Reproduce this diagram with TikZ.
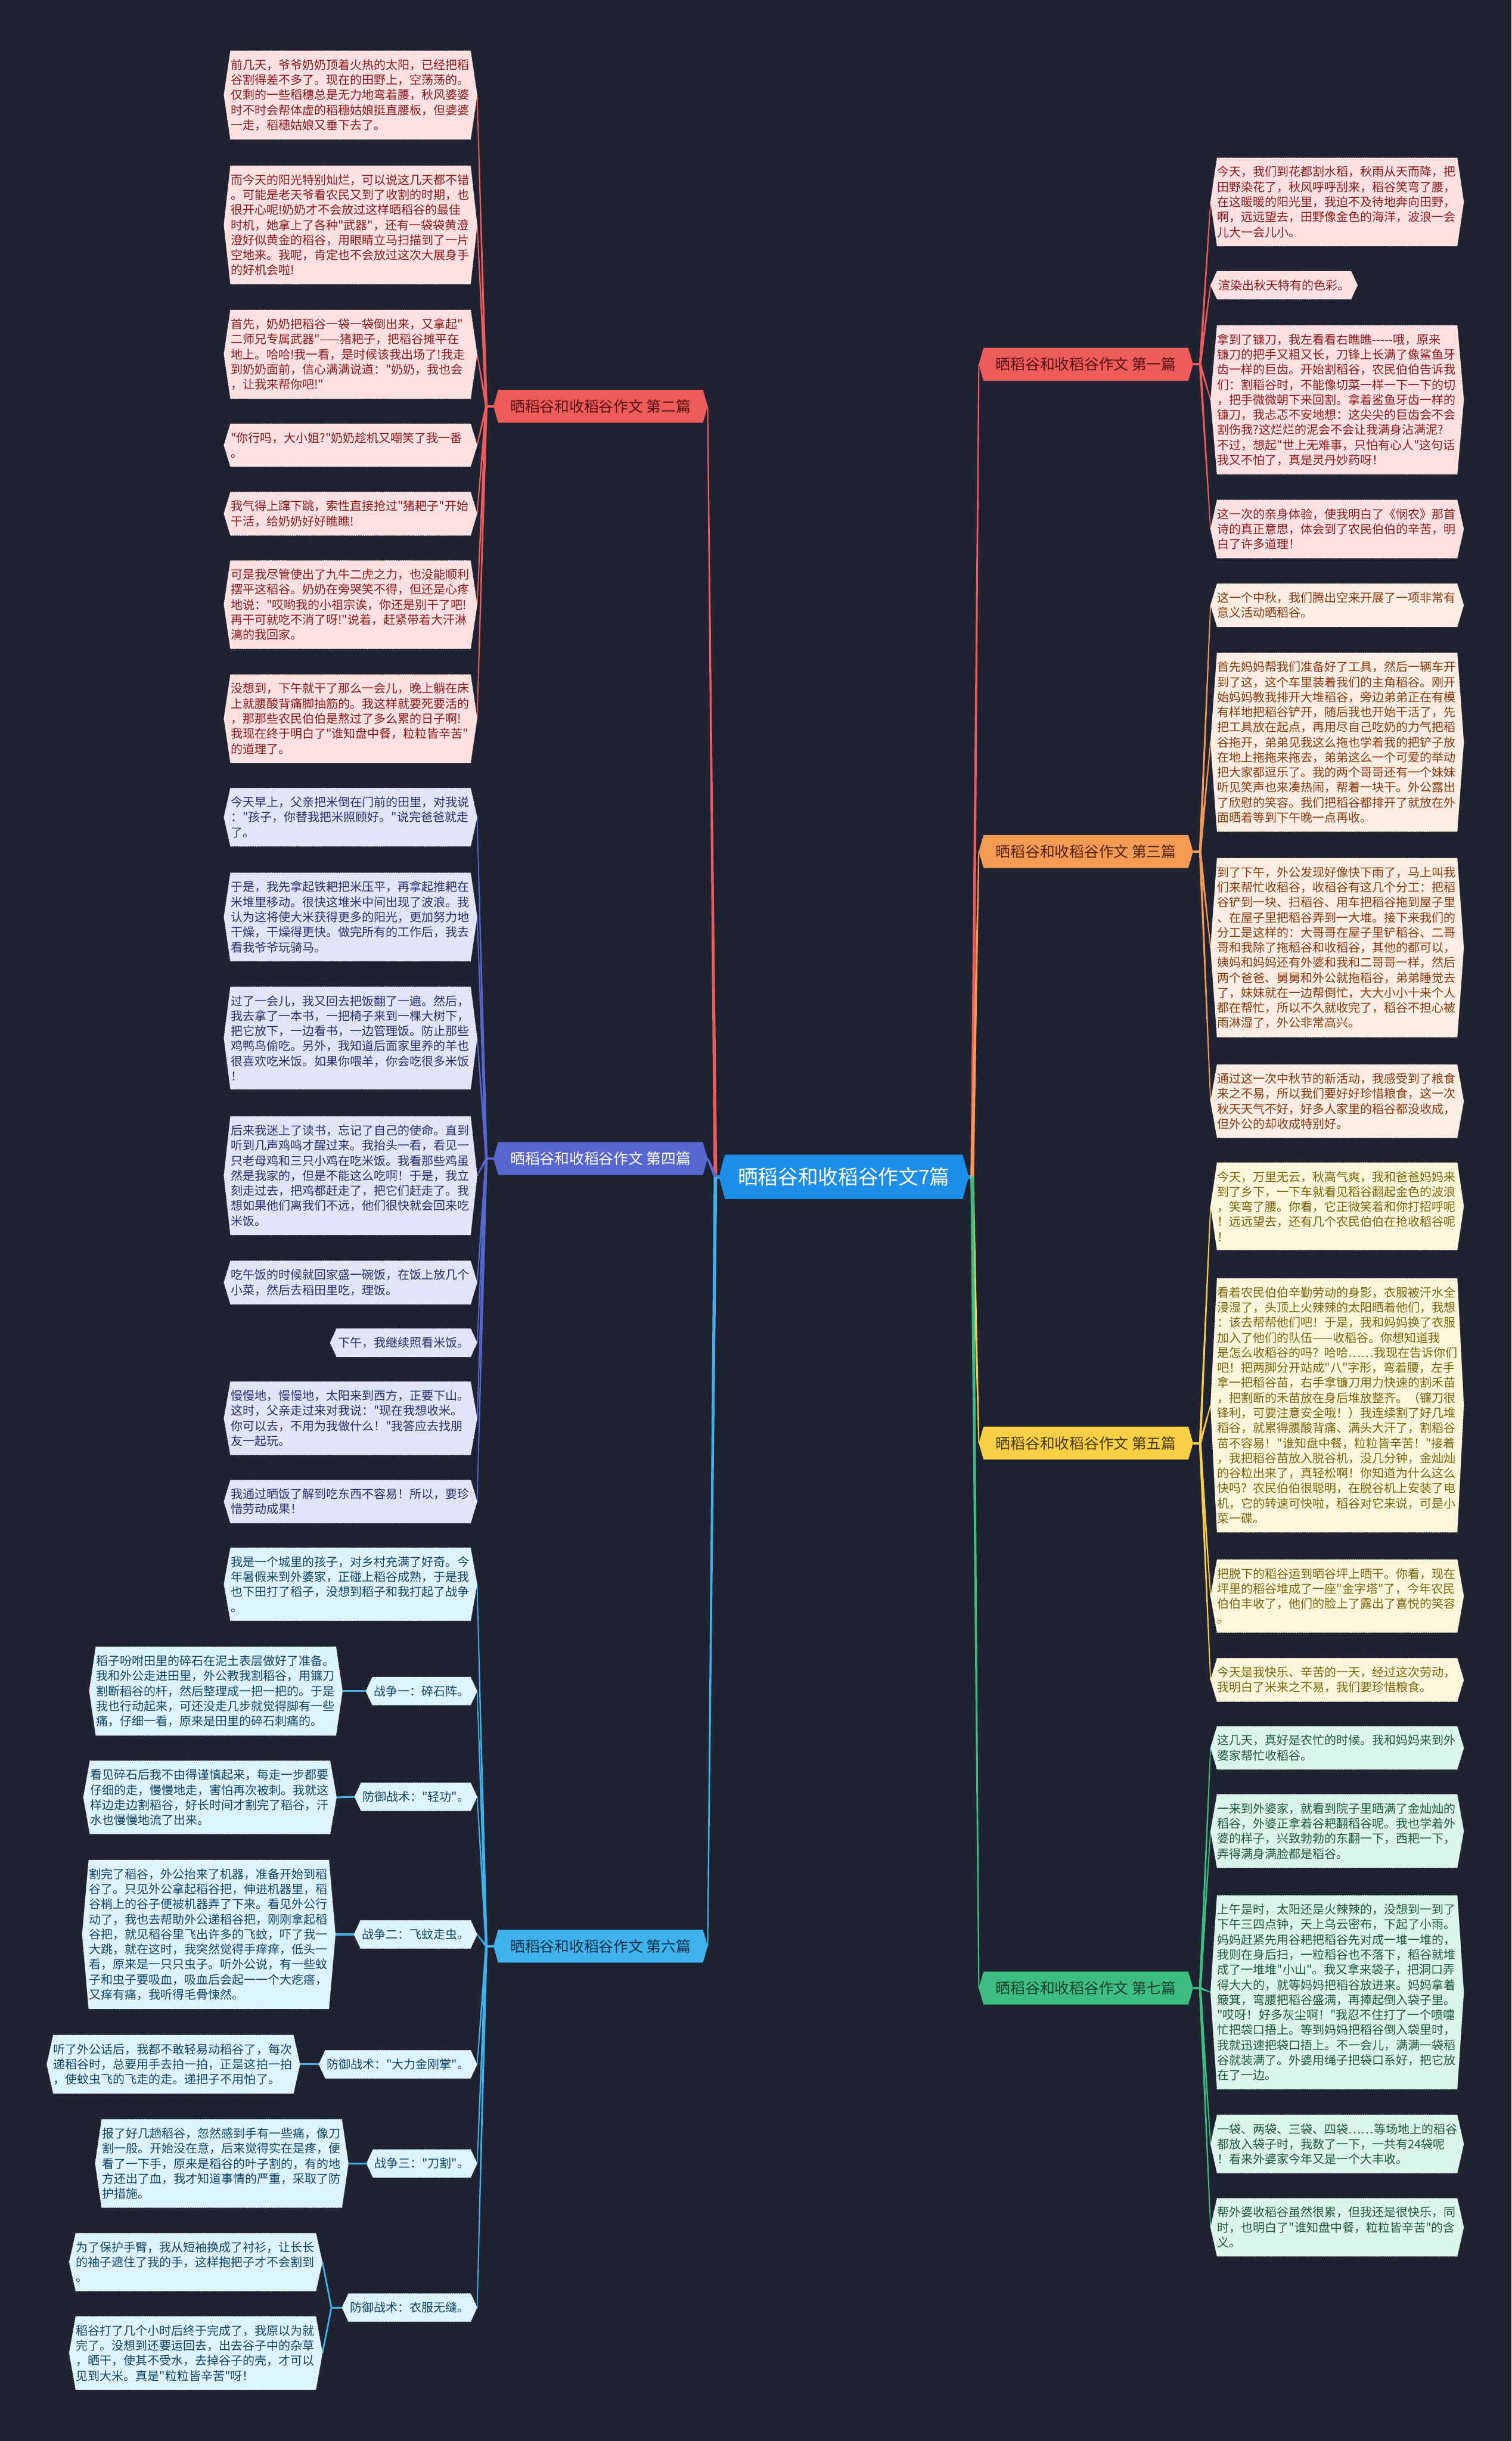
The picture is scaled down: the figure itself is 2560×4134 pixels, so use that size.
\documentclass[tikz,border=0pt]{standalone}
\usepackage{fontspec}
\newfontfamily\cjk{Noto Sans CJK SC}
\usetikzlibrary{calc}
\pgfdeclarelayer{bg}
\pgfdeclarelayer{edges}
\pgfdeclarelayer{shapes}
\pgfsetlayers{bg,edges,shapes,main}
\definecolor{bgc}{HTML}{1F2230}
\definecolor{rootc}{HTML}{1E8FE8}
\definecolor{redc}{HTML}{EE5B5B}
\definecolor{orgc}{HTML}{F39A53}
\definecolor{yelc}{HTML}{F7D046}
\definecolor{grnc}{HTML}{3DBE80}
\definecolor{indc}{HTML}{5867CF}
\definecolor{skyc}{HTML}{3FB2EC}
\definecolor{redf}{HTML}{FDE1E1}\definecolor{redt}{HTML}{8C1C1C}
\definecolor{orgf}{HTML}{FDEDE2}\definecolor{orgt}{HTML}{8A3A10}
\definecolor{yelf}{HTML}{FEF6DA}\definecolor{yelt}{HTML}{7A6410}
\definecolor{grnf}{HTML}{DCF5EA}\definecolor{grnt}{HTML}{1D5A3E}
\definecolor{indf}{HTML}{E2E5F8}\definecolor{indt}{HTML}{27306E}
\definecolor{skyf}{HTML}{DDF3FD}\definecolor{skyt}{HTML}{0F4668}
\newcommand\myleaffont{\cjk\fontsize{10.1pt}{12.75pt}\selectfont}
\newcommand\mybranchfont{\cjk\fontsize{12.5pt}{14pt}\selectfont}
\newcommand\myrootfont{\cjk\fontsize{17pt}{19pt}\selectfont}
\newcommand\taper[5]{\fill[#5] ($(#1)!#3!90:(#2)$) -- ($(#2)!#4!-90:(#1)$) -- ($(#2)!#4!90:(#1)$) -- ($(#1)!#3!-90:(#2)$) -- cycle;}
\begin{document}
\begin{tikzpicture}[x=0.5pt,y=-0.5pt,
  leaf/.style={font=\myleaffont, align=left, text width=203pt, inner xsep=0pt, inner ysep=7pt},
  sleaf/.style={font=\myleaffont, inner xsep=1pt, inner ysep=7pt},
  branch/.style={font=\mybranchfont, minimum width=173pt, minimum height=27.5pt, inner sep=0pt},
  hexbox/.style={densely dotted, line width=0.5pt}]
\begin{pgfonlayer}{bg}
\fill[bgc] (0,0) rectangle (2560,4134);
\end{pgfonlayer}
\useasboundingbox (0,0) rectangle (2560,4134);

% root and branches
\node[font=\myrootfont, text=white, minimum width=201pt, minimum height=37pt, inner sep=0pt] (root) at (1429,1993) {晒稻谷和收稻谷作文7篇};
\node[branch, text=redt!60!black] (B1) at (1839,617) {晒稻谷和收稻谷作文 第一篇};
\node[branch, text=redt!60!black] (B2) at (1017,688) {晒稻谷和收稻谷作文 第二篇};
\node[branch, text=orgt!60!black] (B3) at (1839,1442) {晒稻谷和收稻谷作文 第三篇};
\node[branch, text=white] (B4) at (1017,1962) {晒稻谷和收稻谷作文 第四篇};
\node[branch, text=yelt!60!black] (B5) at (1839,2444) {晒稻谷和收稻谷作文 第五篇};
\node[branch, text=skyt!70!black] (B6) at (1017,3296) {晒稻谷和收稻谷作文 第六篇};
\node[branch, text=grnt!70!black] (B7) at (1839,3367) {晒稻谷和收稻谷作文 第七篇};

% ---- branch 2 leaves
\begin{scope}[every node/.append style={text=redt, anchor=east}]
\node[leaf] (L2a) at (797,161) {前几天，爷爷奶奶顶着火热的太阳，已经把稻\\谷割得差不多了。现在的田野上，空荡荡的。\\仅剩的一些稻穗总是无力地弯着腰，秋风婆婆\\时不时会帮体虚的稻穗姑娘挺直腰板，但婆婆\\一走，稻穗姑娘又垂下去了。};
\node[leaf] (L2b) at (797,381) {而今天的阳光特别灿烂，可以说这几天都不错\\。可能是老天爷看农民又到了收割的时期，也\\很开心呢!奶奶才不会放过这样晒稻谷的最佳\\时机，她拿上了各种"武器"，还有一袋袋黄澄\\澄好似黄金的稻谷，用眼睛立马扫描到了一片\\空地来。我呢，肯定也不会放过这次大展身手\\的好机会啦!};
\node[leaf] (L2c) at (797,600) {首先，奶奶把稻谷一袋一袋倒出来，又拿起"\\二师兄专属武器"——猪耙子，把稻谷摊平在\\地上。哈哈!我一看，是时候该我出场了!我走\\到奶奶面前，信心满满说道："奶奶，我也会\\，让我来帮你吧!"};
\node[leaf] (L2d) at (797,754) {"你行吗，大小姐?"奶奶趁机又嘲笑了我一番\\。};
\node[leaf] (L2e) at (797,870) {我气得上蹿下跳，索性直接抢过"猪耙子"开始\\干活，给奶奶好好瞧瞧!};
\node[leaf] (L2f) at (797,1024) {可是我尽管使出了九牛二虎之力，也没能顺利\\摆平这稻谷。奶奶在旁哭笑不得，但还是心疼\\地说："哎哟我的小祖宗诶，你还是别干了吧!\\再干可就吃不消了呀!"说着，赶紧带着大汗淋\\漓的我回家。};
\node[leaf] (L2g) at (797,1217) {没想到，下午就干了那么一会儿，晚上躺在床\\上就腰酸背痛脚抽筋的。我这样就要死要活的\\，那那些农民伯伯是熬过了多么累的日子啊!\\我现在终于明白了"谁知盘中餐，粒粒皆辛苦"\\的道理了。};
\end{scope}

% ---- branch 4 leaves
\begin{scope}[every node/.append style={text=indt, anchor=east}]
\node[leaf] (L4a) at (797,1384) {今天早上，父亲把米倒在门前的田里，对我说\\："孩子，你替我把米照顾好。"说完爸爸就走\\了。};
\node[leaf] (L4b) at (797,1553) {于是，我先拿起铁耙把米压平，再拿起推耙在\\米堆里移动。很快这堆米中间出现了波浪。我\\认为这将使大米获得更多的阳光，更加努力地\\干燥，干燥得更快。做完所有的工作后，我去\\看我爷爷玩骑马。};
\node[leaf] (L4c) at (797,1758) {过了一会儿，我又回去把饭翻了一遍。然后，\\我去拿了一本书，一把椅子来到一棵大树下，\\把它放下，一边看书，一边管理饭。防止那些\\鸡鸭鸟偷吃。另外，我知道后面家里养的羊也\\很喜欢吃米饭。如果你喂羊，你会吃很多米饭\\！};
\node[leaf] (L4d) at (797,1991) {后来我迷上了读书，忘记了自己的使命。直到\\听到几声鸡鸣才醒过来。我抬头一看，看见一\\只老母鸡和三只小鸡在吃米饭。我看那些鸡虽\\然是我家的，但是不能这么吃啊！于是，我立\\刻走过去，把鸡都赶走了，把它们赶走了。我\\想如果他们离我们不远，他们很快就会回来吃\\米饭。};
\node[leaf] (L4e) at (797,2172) {吃午饭的时候就回家盛一碗饭，在饭上放几个\\小菜，然后去稻田里吃，理饭。};
\node[sleaf] (L4f) at (797,2274) {下午，我继续照看米饭。};
\node[leaf] (L4g) at (797,2402) {慢慢地，慢慢地，太阳来到西方，正要下山。\\这时，父亲走过来对我说："现在我想收米。\\你可以去，不用为我做什么！"我答应去找朋\\友一起玩。};
\node[leaf] (L4h) at (797,2543) {我通过晒饭了解到吃东西不容易！所以，要珍\\惜劳动成果！};
\end{scope}

% ---- branch 6
\begin{scope}[every node/.append style={text=skyt, anchor=east}]
\node[leaf] (S6a) at (797,2683) {我是一个城里的孩子，对乡村充满了好奇。今\\年暑假来到外婆家，正碰上稻谷成熟，于是我\\也下田打了稻子，没想到稻子和我打起了战争\\。};
\node[sleaf] (W1) at (797,2864) {战争一：碎石阵。};
\node[sleaf] (D1) at (797,3043) {防御战术："轻功"。};
\node[sleaf] (W2) at (797,3276) {战争二：飞蚊走虫。};
\node[sleaf] (D2) at (797,3496) {防御战术："大力金刚掌"。};
\node[sleaf] (W3) at (797,3664) {战争三："刀割"。};
\node[sleaf] (D3) at (797,3908) {防御战术：衣服无缝。};
\node[leaf] (S6b) at (569,2864) {稻子吩咐田里的碎石在泥土表层做好了准备。\\我和外公走进田里，外公教我割稻谷，用镰刀\\割断稻谷的杆，然后整理成一把一把的。于是\\我也行动起来，可还没走几步就觉得脚有一些\\痛，仔细一看，原来是田里的碎石刺痛的。};
\node[leaf] (S6c) at (559,3044) {看见碎石后我不由得谨慎起来，每走一步都要\\仔细的走，慢慢地走，害怕再次被刺。我就这\\样边走边割稻谷，好长时间才割完了稻谷，汗\\水也慢慢地流了出来。};
\node[leaf] (S6d) at (557,3276) {割完了稻谷，外公抬来了机器，准备开始到稻\\谷了。只见外公拿起稻谷把，伸进机器里，稻\\谷梢上的谷子便被机器弄了下来。看见外公行\\动了，我也去帮助外公递稻谷把，刚刚拿起稻\\谷把，就见稻谷里飞出许多的飞蚊，吓了我一\\大跳，就在这时，我突然觉得手痒痒，低头一\\看，原来是一只只虫子。听外公说，有一些蚊\\子和虫子要吸血，吸血后会起一一个大疙瘩，\\又痒有痛，我听得毛骨悚然。};
\node[leaf] (S6e) at (497,3496) {听了外公话后，我都不敢轻易动稻谷了，每次\\递稻谷时，总要用手去拍一拍，正是这拍一拍\\，使蚊虫飞的飞走的走。递把子不用怕了。};
\node[leaf] (S6f) at (579,3664) {报了好几趟稻谷，忽然感到手有一些痛，像刀\\割一般。开始没在意，后来觉得实在是疼，便\\看了一下手，原来是稻谷的叶子割的，有的地\\方还出了血，我才知道事情的严重，采取了防\\护措施。};
\node[leaf] (S6g) at (535,3831) {为了保护手臂，我从短袖换成了衬衫，让长长\\的袖子遮住了我的手，这样抱把子才不会割到\\。};
\node[leaf] (S6h) at (535,3985) {稻谷打了几个小时后终于完成了，我原以为就\\完了。没想到还要运回去，出去谷子中的杂草\\，晒干，使其不受水，去掉谷子的壳，才可以\\见到大米。真是"粒粒皆辛苦"呀！};
\end{scope}

% ---- branch 1 leaves
\begin{scope}[every node/.append style={text=redt, anchor=west}]
\node[leaf] (R1a) at (2061,342) {今天，我们到花都割水稻，秋雨从天而降，把\\田野染花了，秋风呼呼刮来，稻谷笑弯了腰，\\在这暖暖的阳光里，我迫不及待地奔向田野，\\啊，远远望去，田野像金色的海洋，波浪一会\\儿大一会儿小。};
\node[sleaf] (R1b) at (2061,483) {渲染出秋天特有的色彩。};
\node[leaf] (R1c) at (2061,677) {拿到了镰刀，我左看看右瞧瞧\mbox{-}\mbox{-}\mbox{-}\mbox{-}\mbox{-}哦，原来\\镰刀的把手又粗又长，刀锋上长满了像鲨鱼牙\\齿一样的巨齿。开始割稻谷，农民伯伯告诉我\\们：割稻谷时，不能像切菜一样一下一下的切\\，把手微微朝下来回割。拿着鲨鱼牙齿一样的\\镰刀，我忐忑不安地想：这尖尖的巨齿会不会\\割伤我?这烂烂的泥会不会让我满身沾满泥?\\不过，想起"世上无难事，只怕有心人"这句话\\我又不怕了，真是灵丹妙药呀！};
\node[leaf] (R1d) at (2061,896) {这一次的亲身体验，使我明白了《悯农》那首\\诗的真正意思，体会到了农民伯伯的辛苦，明\\白了许多道理！};
\end{scope}

% ---- branch 3 leaves
\begin{scope}[every node/.append style={text=orgt, anchor=west}]
\node[leaf] (R3a) at (2061,1025) {这一个中秋，我们腾出空来开展了一项非常有\\意义活动晒稻谷。};
\node[leaf] (R3b) at (2061,1257) {首先妈妈帮我们准备好了工具，然后一辆车开\\到了这，这个车里装着我们的主角稻谷。刚开\\始妈妈教我排开大堆稻谷，旁边弟弟正在有模\\有样地把稻谷铲开，随后我也开始干活了，先\\把工具放在起点，再用尽自己吃奶的力气把稻\\谷拖开，弟弟见我这么拖也学着我的把铲子放\\在地上拖拖来拖去，弟弟这么一个可爱的举动\\把大家都逗乐了。我的两个哥哥还有一个妹妹\\听见笑声也来凑热闹，帮着一块干。外公露出\\了欣慰的笑容。我们把稻谷都排开了就放在外\\面晒着等到下午晚一点再收。};
\node[leaf] (R3c) at (2061,1605) {到了下午，外公发现好像快下雨了，马上叫我\\们来帮忙收稻谷，收稻谷有这几个分工：把稻\\谷铲到一块、扫稻谷、用车把稻谷拖到屋子里\\、在屋子里把稻谷弄到一大堆。接下来我们的\\分工是这样的：大哥哥在屋子里铲稻谷、二哥\\哥和我除了拖稻谷和收稻谷，其他的都可以，\\姨妈和妈妈还有外婆和我和二哥哥一样，然后\\两个爸爸、舅舅和外公就拖稻谷，弟弟睡觉去\\了，妹妹就在一边帮倒忙，大大小小十来个人\\都在帮忙，所以不久就收完了，稻谷不担心被\\雨淋湿了，外公非常高兴。};
\node[leaf] (R3d) at (2061,1865) {通过这一次中秋节的新活动，我感受到了粮食\\来之不易，所以我们要好好珍惜粮食，这一次\\秋天天气不好，好多人家里的稻谷都没收成，\\但外公的却收成特别好。};
\end{scope}

% ---- branch 5 leaves
\begin{scope}[every node/.append style={text=yelt, anchor=west}]
\node[leaf] (R5a) at (2061,2043) {今天，万里无云，秋高气爽，我和爸爸妈妈来\\到了乡下，一下车就看见稻谷翻起金色的波浪\\，笑弯了腰。你看，它正微笑着和你打招呼呢\\！远远望去，还有几个农民伯伯在抢收稻谷呢\\！};
\node[leaf] (R5b) at (2061,2380) {看着农民伯伯辛勤劳动的身影，衣服被汗水全\\浸湿了，头顶上火辣辣的太阳晒着他们，我想\\：该去帮帮他们吧！于是，我和妈妈换了衣服\\加入了他们的队伍——收稻谷。你想知道我\\是怎么收稻谷的吗？哈哈……我现在告诉你们\\吧！把两脚分开站成"八"字形，弯着腰，左手\\拿一把稻谷苗，右手拿镰刀用力快速的割禾苗\\，把割断的禾苗放在身后堆放整齐。（镰刀很\\锋利，可要注意安全哦！）我连续割了好几堆\\稻谷，就累得腰酸背痛、满头大汗了，割稻谷\\苗不容易！"谁知盘中餐，粒粒皆辛苦！"接着\\，我把稻谷苗放入脱谷机，没几分钟，金灿灿\\的谷粒出来了，真轻松啊！你知道为什么这么\\快吗？农民伯伯很聪明，在脱谷机上安装了电\\机，它的转速可快啦，稻谷对它来说，可是小\\菜一碟。};
\node[leaf] (R5c) at (2061,2703) {把脱下的稻谷运到晒谷坪上晒干。你看，现在\\坪里的稻谷堆成了一座"金字塔"了，今年农民\\伯伯丰收了，他们的脸上了露出了喜悦的笑容\\。};
\node[leaf] (R5d) at (2061,2845) {今天是我快乐、辛苦的一天，经过这次劳动，\\我明白了米来之不易，我们要珍惜粮食。};
\end{scope}

% ---- branch 7 leaves
\begin{scope}[every node/.append style={text=grnt, anchor=west}]
\node[leaf] (R7a) at (2061,2960) {这几天，真好是农忙的时候。我和妈妈来到外\\婆家帮忙收稻谷。};
\node[leaf] (R7b) at (2061,3101) {一来到外婆家，就看到院子里晒满了金灿灿的\\稻谷，外婆正拿着谷耙翻稻谷呢。我也学着外\\婆的样子，兴致勃勃的东翻一下，西耙一下，\\弄得满身满脸都是稻谷。};
\node[leaf] (R7c) at (2061,3374) {上午是时，太阳还是火辣辣的，没想到一到了\\下午三四点钟，天上乌云密布，下起了小雨。\\妈妈赶紧先用谷耙把稻谷先对成一堆一堆的，\\我则在身后扫，一粒稻谷也不落下，稻谷就堆\\成了一堆堆"小山"。我又拿来袋子，把洞口弄\\得大大的，就等妈妈把稻谷放进来。妈妈拿着\\簸箕，弯腰把稻谷盛满，再捧起倒入袋子里。\\"哎呀！好多灰尘啊！"我忍不住打了一个喷嚏\\忙把袋口捂上。等到妈妈把稻谷倒入袋里时，\\我就迅速把袋口捂上。不一会儿，满满一袋稻\\谷就装满了。外婆用绳子把袋口系好，把它放\\在了一边。};
\node[leaf] (R7d) at (2061,3631) {一袋、两袋、三袋、四袋……等场地上的稻谷\\都放入袋子时，我数了一下，一共有24袋呢\\！看来外婆家今年又是一个大丰收。};
\node[leaf] (R7e) at (2061,3772) {帮外婆收稻谷虽然很累，但我还是很快乐，同\\时，也明白了"谁知盘中餐，粒粒皆辛苦"的含\\义。};
\end{scope}

% ---- tip coordinates
\foreach \n in {L2a,L2b,L2c,L2d,L2e,L2f,L2g,L4a,L4b,L4c,L4d,L4e,L4f,L4g,L4h,S6a,S6b,S6c,S6d,S6e,S6f,S6g,S6h,W1,D1,W2,D2,W3,D3}
  \coordinate (\n-te) at ([xshift=5.5pt]\n.east);
\foreach \n in {R1a,R1b,R1c,R1d,R3a,R3b,R3c,R3d,R5a,R5b,R5c,R5d,R7a,R7b,R7c,R7d,R7e,W1,D1,W2,D2,W3,D3}
  \coordinate (\n-tw) at ([xshift=-5.5pt]\n.west);
\foreach \n in {B1,B3,B5,B7} {\coordinate (\n-tw) at ([xshift=-4pt]\n.west); \coordinate (\n-h) at ([xshift=10pt]\n.east);\coordinate (\n-te) at ([xshift=4pt]\n.east);}
\foreach \n in {B2,B4,B6} {\coordinate (\n-te) at ([xshift=4pt]\n.east); \coordinate (\n-h) at ([xshift=-10pt]\n.west);\coordinate (\n-tw) at ([xshift=-4pt]\n.west);}
\coordinate (hubL) at ([xshift=-8pt]root.west);
\coordinate (hubR) at ([xshift=8pt]root.east);
\coordinate (D3-h) at ([xshift=-9pt]D3-tw);

% ---- shapes
\begin{pgfonlayer}{shapes}
\foreach \n/\f in {L2a/redf,L2b/redf,L2c/redf,L2d/redf,L2e/redf,L2f/redf,L2g/redf,R1a/redf,R1b/redf,R1c/redf,R1d/redf,
  L4a/indf,L4b/indf,L4c/indf,L4d/indf,L4e/indf,L4f/indf,L4g/indf,L4h/indf,
  S6a/skyf,S6b/skyf,S6c/skyf,S6d/skyf,S6e/skyf,S6f/skyf,S6g/skyf,S6h/skyf,W1/skyf,D1/skyf,W2/skyf,D2/skyf,W3/skyf,D3/skyf,
  R3a/orgf,R3b/orgf,R3c/orgf,R3d/orgf,R5a/yelf,R5b/yelf,R5c/yelf,R5d/yelf,
  R7a/grnf,R7b/grnf,R7c/grnf,R7d/grnf,R7e/grnf}
  \path[hexbox, fill=\f, draw=white!70!\f] (\n.north west) -- (\n.north east) -- ([xshift=5.5pt]\n.east) -- (\n.south east) -- (\n.south west) -- ([xshift=-5.5pt]\n.west) -- cycle;
\foreach \n/\f in {B1/redc,B2/redc,B3/orgc,B4/indc,B5/yelc,B6/skyc,B7/grnc}
  \path[fill=\f] (\n.north west) -- (\n.north east) -- ([xshift=4pt]\n.east) -- (\n.south east) -- (\n.south west) -- ([xshift=-4pt]\n.west) -- cycle;
\path[fill=rootc] (root.north west) -- (root.north east) -- ([xshift=5pt]root.east) -- (root.south east) -- (root.south west) -- ([xshift=-5pt]root.west) -- cycle;
\end{pgfonlayer}

% ---- edges
\begin{pgfonlayer}{edges}
\draw[line width=3pt, rootc!80!skyc] (root.west) -- (hubL);
\draw[line width=3pt, rootc!80!skyc] (root.east) -- (hubR);
\taper{hubL}{B2-te}{1.5pt}{0.5pt}{redc}
\taper{hubL}{B4-te}{1.5pt}{0.8pt}{indc}
\taper{hubL}{B6-te}{1.5pt}{0.5pt}{skyc}
\taper{hubR}{B1-tw}{1.5pt}{0.5pt}{redc}
\taper{hubR}{B3-tw}{1.5pt}{0.5pt}{orgc}
\taper{hubR}{B5-tw}{1.5pt}{0.5pt}{yelc}
\taper{hubR}{B7-tw}{1.5pt}{0.5pt}{grnc}
% branch hubs
\draw[line width=2pt, redc] (B2-tw) -- (B2-h);
\draw[line width=2pt, indc] (B4-tw) -- (B4-h);
\draw[line width=2pt, skyc] (B6-tw) -- (B6-h);
\draw[line width=2pt, redc] (B1-te) -- (B1-h);
\draw[line width=2pt, orgc] (B3-te) -- (B3-h);
\draw[line width=2pt, yelc] (B5-te) -- (B5-h);
\draw[line width=2pt, grnc] (B7-te) -- (B7-h);
\foreach \n in {L2a,L2b,L2c,L2d,L2e,L2f,L2g} {\taper{B2-h}{\n-te}{1pt}{0.4pt}{redc}}
\foreach \n in {L4a,L4b,L4c,L4d,L4e,L4f,L4g,L4h} {\taper{B4-h}{\n-te}{1pt}{0.4pt}{indc}}
\foreach \n in {S6a,W1,D1,W2,D2,W3,D3} {\taper{B6-h}{\n-te}{1pt}{0.4pt}{skyc}}
\foreach \n in {R1a,R1b,R1c,R1d} {\taper{B1-h}{\n-tw}{1pt}{0.4pt}{redc}}
\foreach \n in {R3a,R3b,R3c,R3d} {\taper{B3-h}{\n-tw}{1pt}{0.4pt}{orgc}}
\foreach \n in {R5a,R5b,R5c,R5d} {\taper{B5-h}{\n-tw}{1pt}{0.4pt}{yelc}}
\foreach \n in {R7a,R7b,R7c,R7d,R7e} {\taper{B7-h}{\n-tw}{1pt}{0.4pt}{grnc}}
% sub branches of part 6
\draw[line width=1.6pt, skyc] (W1-tw) -- (S6b-te);
\draw[line width=1.6pt, skyc] (D1-tw) -- (S6c-te);
\draw[line width=1.6pt, skyc] (W2-tw) -- (S6d-te);
\draw[line width=1.6pt, skyc] (D2-tw) -- (S6e-te);
\draw[line width=1.6pt, skyc] (W3-tw) -- (S6f-te);
\draw[line width=1.6pt, skyc] (D3-tw) -- (D3-h);
\draw[line width=1.4pt, skyc] (D3-h) -- (S6g-te);
\draw[line width=1.4pt, skyc] (D3-h) -- (S6h-te);
\end{pgfonlayer}
\end{tikzpicture}
\end{document}
